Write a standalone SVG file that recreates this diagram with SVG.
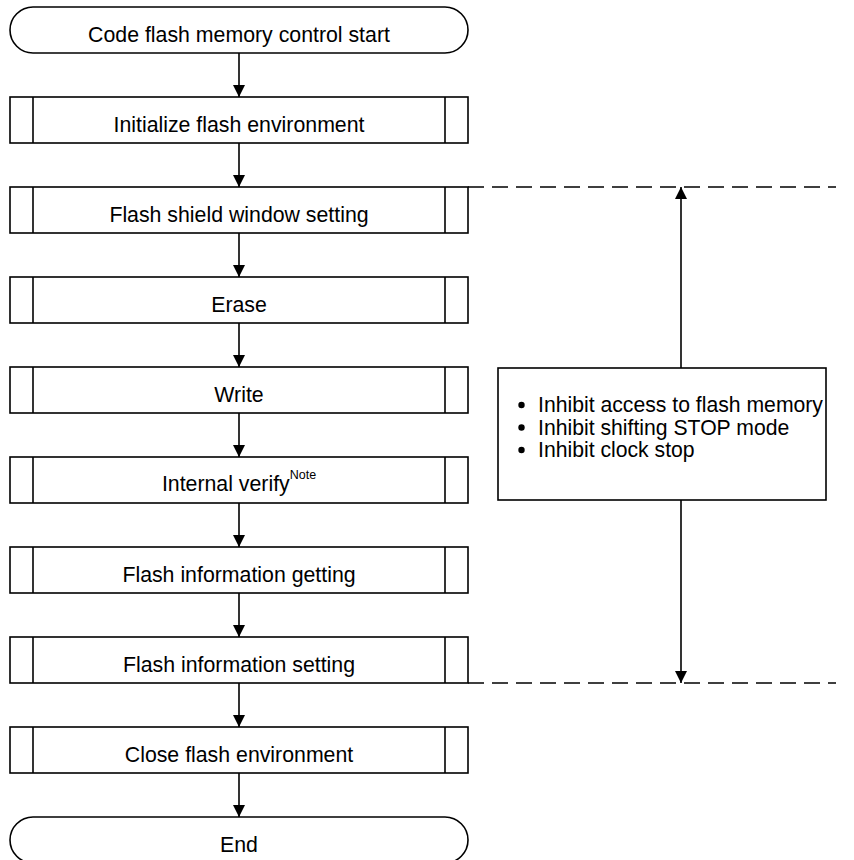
<svg xmlns="http://www.w3.org/2000/svg" width="854" height="860" viewBox="0 0 854 860">
<defs>
<marker id="ah" viewBox="0 0 12 12" refX="12" refY="6" markerWidth="12" markerHeight="12" markerUnits="userSpaceOnUse" orient="auto">
<path d="M0,0 L12,6 L0,12 Z" fill="#000"/>
</marker>
</defs>
<style>
.box{fill:#fff;stroke:#000;stroke-width:1.6}
.t{font-family:"Liberation Sans",Arial,sans-serif;font-size:21.3px;fill:#000;text-anchor:middle}
.n{font-family:"Liberation Sans",Arial,sans-serif;font-size:21.2px;fill:#000}
.c{fill:none;stroke:#000;stroke-width:1.6}
.d{fill:none;stroke:#000;stroke-width:1.6;stroke-dasharray:16 8}
</style>
<rect width="854" height="860" fill="#fff"/>
<g id="connectors">
<line class="c" x1="239" y1="53" x2="239" y2="97" marker-end="url(#ah)"/>
<line class="c" x1="239" y1="143" x2="239" y2="187" marker-end="url(#ah)"/>
<line class="c" x1="239" y1="233" x2="239" y2="277" marker-end="url(#ah)"/>
<line class="c" x1="239" y1="323" x2="239" y2="367" marker-end="url(#ah)"/>
<line class="c" x1="239" y1="413" x2="239" y2="457" marker-end="url(#ah)"/>
<line class="c" x1="239" y1="503" x2="239" y2="547" marker-end="url(#ah)"/>
<line class="c" x1="239" y1="593" x2="239" y2="637" marker-end="url(#ah)"/>
<line class="c" x1="239" y1="683" x2="239" y2="727" marker-end="url(#ah)"/>
<line class="c" x1="239" y1="773" x2="239" y2="817" marker-end="url(#ah)"/>
<line class="d" x1="468" y1="187" x2="836" y2="187"/>
<line class="d" x1="468" y1="683" x2="836" y2="683"/>
<line class="c" x1="681" y1="368" x2="681" y2="187" marker-end="url(#ah)"/>
<line class="c" x1="681" y1="500" x2="681" y2="683" marker-end="url(#ah)"/>
</g>
<g id="start">
<rect class="box" x="10" y="7" width="458" height="46" rx="23" ry="23"/>
<text class="t" x="239" y="41.5">Code flash memory control start</text>
</g>
<g id="init">
<rect class="box" x="10" y="97" width="458" height="46"/>
<line class="c" x1="33" y1="97" x2="33" y2="143"/><line class="c" x1="445" y1="97" x2="445" y2="143"/>
<text class="t" x="239" y="131.5">Initialize flash environment</text>
</g>
<g id="shield">
<rect class="box" x="10" y="187" width="458" height="46"/>
<line class="c" x1="33" y1="187" x2="33" y2="233"/><line class="c" x1="445" y1="187" x2="445" y2="233"/>
<text class="t" x="239" y="221.5">Flash shield window setting</text>
</g>
<g id="erase">
<rect class="box" x="10" y="277" width="458" height="46"/>
<line class="c" x1="33" y1="277" x2="33" y2="323"/><line class="c" x1="445" y1="277" x2="445" y2="323"/>
<text class="t" x="239" y="311.5">Erase</text>
</g>
<g id="write">
<rect class="box" x="10" y="367" width="458" height="46"/>
<line class="c" x1="33" y1="367" x2="33" y2="413"/><line class="c" x1="445" y1="367" x2="445" y2="413"/>
<text class="t" x="239" y="401.5">Write</text>
</g>
<g id="verify">
<rect class="box" x="10" y="457" width="458" height="46"/>
<line class="c" x1="33" y1="457" x2="33" y2="503"/><line class="c" x1="445" y1="457" x2="445" y2="503"/>
<text class="t" x="239" y="491">Internal verify<tspan font-size="12.5" dy="-12">Note</tspan></text>
</g>
<g id="getting">
<rect class="box" x="10" y="547" width="458" height="46"/>
<line class="c" x1="33" y1="547" x2="33" y2="593"/><line class="c" x1="445" y1="547" x2="445" y2="593"/>
<text class="t" x="239" y="581.5">Flash information getting</text>
</g>
<g id="setting">
<rect class="box" x="10" y="637" width="458" height="46"/>
<line class="c" x1="33" y1="637" x2="33" y2="683"/><line class="c" x1="445" y1="637" x2="445" y2="683"/>
<text class="t" x="239" y="671.5">Flash information setting</text>
</g>
<g id="close">
<rect class="box" x="10" y="727" width="458" height="46"/>
<line class="c" x1="33" y1="727" x2="33" y2="773"/><line class="c" x1="445" y1="727" x2="445" y2="773"/>
<text class="t" x="239" y="761.5">Close flash environment</text>
</g>
<g id="end">
<rect class="box" x="10" y="817" width="458" height="46" rx="23" ry="23"/>
<text class="t" x="239" y="851.5">End</text>
</g>
<g id="note">
<rect class="box" x="498" y="368" width="328" height="132"/>
<circle cx="521.5" cy="405" r="3.2"/>
<circle cx="521.5" cy="427.5" r="3.2"/>
<circle cx="521.5" cy="450" r="3.2"/>
<text class="n" x="538" y="412">Inhibit access to flash memory</text>
<text class="n" x="538" y="434.5">Inhibit shifting STOP mode</text>
<text class="n" x="538" y="457">Inhibit clock stop</text>
</g>
</svg>
